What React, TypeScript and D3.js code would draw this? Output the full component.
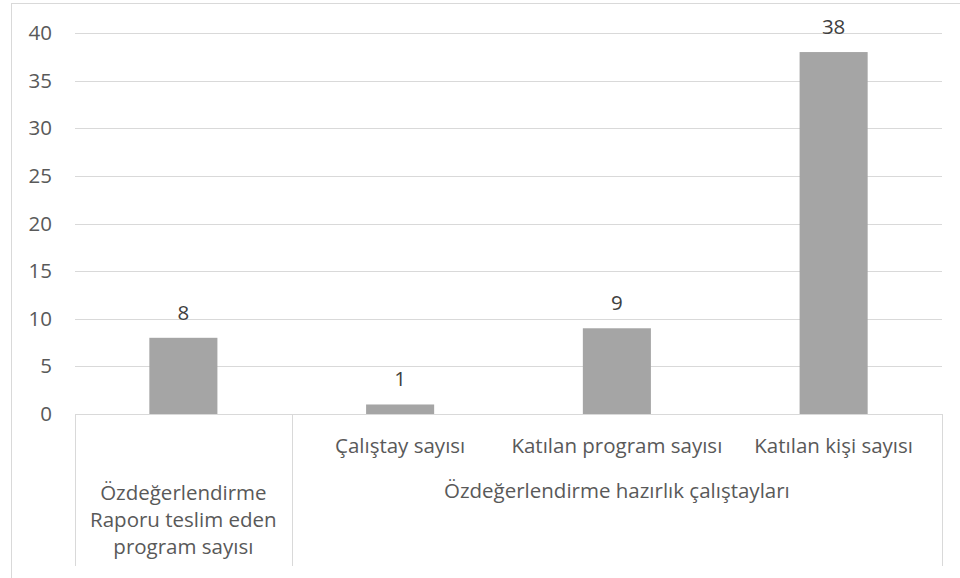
import React, { useEffect, useRef } from 'react';
import * as d3 from 'd3';

const categories = ['Özdeğerlendirme Raporu teslim eden program sayısı', 'Çalıştay sayısı', 'Katılan program sayısı', 'Katılan kişi sayısı'];
const values = [8, 1, 9, 38];
const firstCategoryLines = ['Özdeğerlendirme', 'Raporu teslim eden', 'program sayısı'];
const groupLabel = 'Özdeğerlendirme hazırlık çalıştayları';
const yTicks = [0, 5, 10, 15, 20, 25, 30, 35, 40];

const App = () => {
  const svgRef = useRef<SVGSVGElement>(null);

  useEffect(() => {
    const width = 960;
    const height = 578;
    const font = '"Open Sans", sans-serif';
    const fontSize = 20.5;

    d3.select(svgRef.current).selectAll('*').remove();
    const svg = d3.select(svgRef.current)
      .attr('width', width)
      .attr('height', height);

    svg.append('rect')
      .attr('width', width)
      .attr('height', height)
      .attr('fill', '#fff');

    // outer chart border (cropped on right and bottom)
    svg.append('rect')
      .attr('x', 11.5)
      .attr('y', 3.5)
      .attr('width', width + 20)
      .attr('height', height + 20)
      .attr('fill', 'none')
      .attr('stroke', '#d9d9d9');

    const x = d3.scaleBand().domain(categories).range([75, 942]).padding(0);
    const y = d3.scaleLinear().domain([0, 40]).range([414, 33]);
    const barWidth = x.bandwidth() * 0.314;

    // gridlines
    svg.append('g')
      .selectAll('line')
      .data(yTicks.filter(d => d > 0))
      .enter()
      .append('line')
      .attr('x1', 75)
      .attr('x2', 942)
      .attr('y1', d => Math.round(y(d)) + 0.5)
      .attr('y2', d => Math.round(y(d)) + 0.5)
      .attr('stroke', '#d9d9d9');

    // y tick labels
    svg.append('g')
      .selectAll('text')
      .data(yTicks)
      .enter()
      .append('text')
      .attr('x', 52)
      .attr('y', d => y(d) + 7)
      .attr('text-anchor', 'end')
      .attr('font-family', font)
      .attr('font-size', fontSize)
      .attr('fill', '#595959')
      .text(d => d);

    // bars
    svg.append('g')
      .selectAll('rect')
      .data(values)
      .enter()
      .append('rect')
      .attr('x', (d, i) => x(categories[i])! + (x.bandwidth() - barWidth) / 2)
      .attr('y', d => y(d))
      .attr('width', barWidth)
      .attr('height', d => y(0) - y(d))
      .attr('fill', '#a5a5a5');

    // value labels
    svg.append('g')
      .selectAll('text')
      .data(values)
      .enter()
      .append('text')
      .attr('x', (d, i) => x(categories[i])! + x.bandwidth() / 2)
      .attr('y', d => y(d) - 18)
      .attr('text-anchor', 'middle')
      .attr('font-family', font)
      .attr('font-size', fontSize)
      .attr('fill', '#404040')
      .text(d => d);

    // category axis
    const axis = svg.append('g').attr('stroke', '#d9d9d9');
    axis.append('line')
      .attr('x1', 75).attr('x2', 942)
      .attr('y1', 414.5).attr('y2', 414.5);
    const seps = [75, x(categories[1])!, 942];
    axis.selectAll('line.sep')
      .data(seps)
      .enter()
      .append('line')
      .attr('class', 'sep')
      .attr('x1', d => Math.round(d) + 0.5)
      .attr('x2', d => Math.round(d) + 0.5)
      .attr('y1', 414)
      .attr('y2', 566);

    // level 1 labels
    svg.append('g')
      .selectAll('text')
      .data(categories.slice(1))
      .enter()
      .append('text')
      .attr('x', d => x(d)! + x.bandwidth() / 2)
      .attr('y', 453)
      .attr('text-anchor', 'middle')
      .attr('font-family', font)
      .attr('font-size', fontSize)
      .attr('fill', '#595959')
      .text(d => d);

    // first category spans both levels
    svg.append('g')
      .selectAll('text')
      .data(firstCategoryLines)
      .enter()
      .append('text')
      .attr('x', x(categories[0])! + x.bandwidth() / 2)
      .attr('y', (d, i) => 500 + i * 27)
      .attr('text-anchor', 'middle')
      .attr('font-family', font)
      .attr('font-size', fontSize)
      .attr('fill', '#595959')
      .text(d => d);

    // level 2 group label
    svg.append('text')
      .attr('x', (x(categories[1])! + 942) / 2)
      .attr('y', 498)
      .attr('text-anchor', 'middle')
      .attr('font-family', font)
      .attr('font-size', fontSize)
      .attr('fill', '#595959')
      .text(groupLabel);
  }, []);

  return (
    <svg ref={svgRef} style={{ position: 'absolute', left: 0, top: 0 }} />
  );
};

export default App;
